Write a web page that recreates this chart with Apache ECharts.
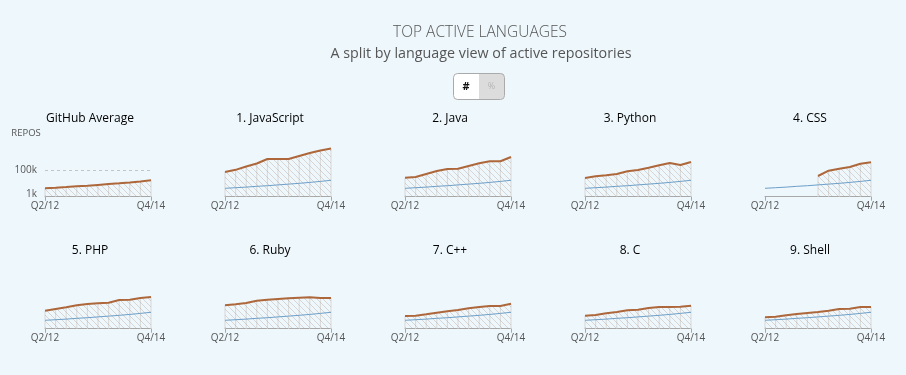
<!DOCTYPE html>
<html><head><meta charset="utf-8">
<script src="https://cdn.jsdelivr.net/npm/echarts@6/dist/echarts.min.js"></script>
<style>html,body{margin:0;padding:0;background:#eef7fc;}#c{width:906px;height:375px;}</style>
</head><body><div id="c"></div>
<script>
// ---- data (values in thousands of active repositories) ----
const quarters = ['Q2/12','Q3/12','Q4/12','Q1/13','Q2/13','Q3/13','Q4/13','Q1/14','Q2/14','Q3/14','Q4/14'];
const githubAverage = [9.9, 11.3, 12.9, 15.1, 16.9, 19.5, 22.2, 25.1, 28.6, 32.8, 37.7];
const javascript = [85, 101, 128, 154, 199, 199, 199, 232, 267, 299, 325];
const java = [50.6, 54.4, 72.2, 92.5, 107.5, 109.8, 132, 156, 175.5, 175.5, 220.7];
const python = [49, 58.3, 64.1, 72.2, 90.4, 99.8, 117.8, 138, 159, 140.7, 168.6];
const css = [null, null, null, null, null, 60, 94.7, 109.8, 123.5, 152.5, 165.7];
const php = [45.4, 54.4, 64.1, 76.7, 85.4, 90.4, 94.7, 115.3, 117.8, 132, 140.7];
const ruby = [76.7, 83.4, 92.5, 109.8, 117.8, 123.5, 129.4, 134.6, 138, 132, 132];
const cpp = [22.6, 23.7, 29, 35.9, 42.4, 49, 58.3, 66, 72.2, 72.2, 87.5];
const cLang = [23.7, 26.3, 33.2, 39, 47.4, 50.6, 60, 66, 66, 67.8, 74.1];
const shell = [18.2, 20.2, 25.1, 30.3, 34.5, 39, 45.4, 54.4, 56, 66, 66];
const panelRanks = ['', '1.', '2.', '3.', '4.', '5.', '6.', '7.', '8.', '9.'];
const panelNames = ['GitHub Average', 'JavaScript', 'Java', 'Python', 'CSS', 'PHP', 'Ruby', 'C++', 'C', 'Shell'];
const panelData = [githubAverage, javascript, java, python, css, php, ruby, cpp, cLang, shell];
const yTickValues = [1, 100];      // thousands
const yTickLabels = ['1k', '100k'];
const yAxisName = 'REPOS';
const chartTitle = 'TOP ACTIVE LANGUAGES';
const chartSubtitle = 'A split by language view of active repositories';

// ---- rendering ----
const SQRT_MAX = 700;                       // sqrt(repos) at top of plot
const K = 0.0845;                           // px per sqrt unit
const PLOT_H = SQRT_MAX * K;
const tr = v => (v == null ? null : Math.sqrt(v * 1000));

function hatch() {
  const s = 6, cv = document.createElement('canvas');
  cv.width = s; cv.height = s;
  const g = cv.getContext('2d');
  g.strokeStyle = 'rgba(175,145,125,0.42)';
  g.lineWidth = 0.8;
  for (const o of [-s, 0, s]) { g.beginPath(); g.moveTo(o, 0); g.lineTo(o + s, s); g.stroke(); }
  return cv;
}
const pattern = { image: hatch(), repeat: 'repeat' };

const grids = [], xAxes = [], yAxes = [], series = [], graphics = [];
const BROWN = '#ad673a', BLUE = '#6d9fc8';
panelData.forEach((arr, i) => {
  const col = i % 5, row = Math.floor(i / 5);
  const bottomY = 196.7 + 132 * row;
  grids.push({ left: 45 + 180 * col, top: bottomY - PLOT_H, width: 106, height: PLOT_H });
  xAxes.push({
    gridIndex: i, type: 'category', data: quarters, boundaryGap: false,
    axisLine: { lineStyle: { color: '#a8a8a8', width: 1 } },
    axisTick: { show: true, length: 4, interval: (idx) => idx === 0 || idx === quarters.length - 1, lineStyle: { color: '#a8a8a8' } },
    axisLabel: { interval: (idx) => idx === 0 || idx === quarters.length - 1, color: '#555', fontSize: 10, margin: 4, fontFamily: 'Open Sans' },
    splitLine: { show: false }
  });
  yAxes.push({
    gridIndex: i, type: 'value', min: 0, max: SQRT_MAX, show: i === 0,
    axisLine: { show: false }, axisTick: { show: false }, splitLine: { show: false },
    axisLabel: {
      show: i === 0, color: '#555', fontSize: 10, fontFamily: 'Open Sans', margin: 8,
      customValues: yTickValues.map(tr),
      formatter: (v) => {
        let best = 0, bd = Infinity;
        yTickValues.forEach((t, j) => { const d = Math.abs(tr(t) - v); if (d < bd) { bd = d; best = j; } });
        return yTickLabels[best];
      }
    }
  });
  const d = arr.map(tr);
  series.push({ type: 'bar', xAxisIndex: i, yAxisIndex: i, data: d, barWidth: 1, itemStyle: { color: '#d8d8d8' }, silent: true, z: 1 });
  series.push({ type: 'line', xAxisIndex: i, yAxisIndex: i, data: d, symbol: 'none', lineStyle: { width: 0 }, areaStyle: { color: pattern, opacity: 1 }, silent: true, z: 2,
    markLine: i === 0 ? { silent: true, symbol: 'none', label: { show: false }, lineStyle: { color: '#c4c4c4', type: [3, 3], width: 1 }, data: [{ yAxis: tr(100) }] } : undefined });
  if (i > 0) series.push({ type: 'line', xAxisIndex: i, yAxisIndex: i, data: githubAverage.map(tr), symbol: 'none', lineStyle: { color: BLUE, width: 1 }, silent: true, z: 3 });
  series.push({ type: 'line', xAxisIndex: i, yAxisIndex: i, data: d, symbol: 'none', lineStyle: { color: BROWN, width: 2 }, silent: true, z: 4 });
  graphics.push({
    type: 'text', x: 90 + 180 * col, y: 119 + 132 * row,
    style: {
      text: panelRanks[i] ? '{n|' + panelRanks[i] + ' }{b|' + panelNames[i] + '}' : '{b|' + panelNames[i] + '}',
      align: 'center', verticalAlign: 'middle',
      rich: { n: { fontSize: 12, color: '#666', fontFamily: 'Open Sans' }, b: { fontSize: 12, color: '#1a1a1a', fontFamily: 'Open Sans' } }
    }
  });
});

graphics.push(
  { type: 'text', x: 480, y: 33, style: { text: chartTitle, align: 'center', verticalAlign: 'middle', fontSize: 15.5, fontWeight: 300, fill: '#555', fontFamily: 'Open Sans' } },
  { type: 'text', x: 481, y: 54, style: { text: chartSubtitle, align: 'center', verticalAlign: 'middle', fontSize: 14.3, fill: '#555', fontFamily: 'Open Sans' } },
  { type: 'rect', shape: { x: 453, y: 73, width: 26, height: 26, r: [4, 0, 0, 4] }, style: { fill: '#fff' } },
  { type: 'rect', shape: { x: 479, y: 73, width: 25, height: 26, r: [0, 4, 4, 0] }, style: { fill: '#dcdcdc' } },
  { type: 'rect', shape: { x: 453.5, y: 73.5, width: 51, height: 26, r: 4 }, style: { fill: 'none', stroke: '#aaa', lineWidth: 1 } },
  { type: 'text', x: 466, y: 86.5, style: { text: '#', align: 'center', verticalAlign: 'middle', fontSize: 11, fontWeight: 'bold', fill: '#111', fontFamily: 'Open Sans' } },
  { type: 'text', x: 491.5, y: 86.5, style: { text: '%', align: 'center', verticalAlign: 'middle', fontSize: 9, fill: '#b5b5b5', fontFamily: 'Open Sans' } },
  { type: 'text', x: 26, y: 133.5, style: { text: yAxisName, align: 'center', verticalAlign: 'middle', fontSize: 9.5, fill: '#555', fontFamily: 'Open Sans' } }
);

const chart = echarts.init(document.getElementById('c'), null, { renderer: 'canvas' });
chart.setOption({
  backgroundColor: '#eef7fc', animation: false,
  textStyle: { fontFamily: 'Open Sans' },
  grid: grids, xAxis: xAxes, yAxis: yAxes, series: series, graphic: graphics
});
</script></body></html>
